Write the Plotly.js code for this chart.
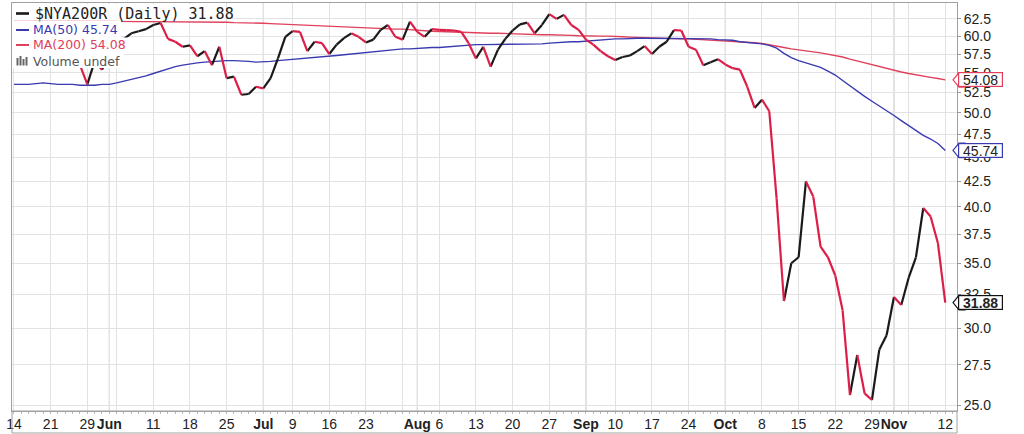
<!DOCTYPE html>
<html><head><meta charset="utf-8">
<script src="https://cdn.plot.ly/plotly-3.0.1.min.js"></script>
<style>html,body{margin:0;padding:0;background:#fff}#chart{width:1024px;height:434px}</style>
</head><body><div id="chart"></div>
<script>
// Trading days 2018-05-14 .. 2018-11-12 (MM-DD)
const dates = [
 '05-14','05-15','05-16','05-17','05-18','05-21','05-22','05-23','05-24','05-25','05-29','05-30','05-31',
 '06-01','06-04','06-05','06-06','06-07','06-08','06-11','06-12','06-13','06-14','06-15','06-18','06-19','06-20','06-21','06-22','06-25','06-26','06-27','06-28','06-29',
 '07-02','07-03','07-05','07-06','07-09','07-10','07-11','07-12','07-13','07-16','07-17','07-18','07-19','07-20','07-23','07-24','07-25','07-26','07-27','07-30','07-31',
 '08-01','08-02','08-03','08-06','08-07','08-08','08-09','08-10','08-13','08-14','08-15','08-16','08-17','08-20','08-21','08-22','08-23','08-24','08-27','08-28','08-29','08-30','08-31',
 '09-04','09-05','09-06','09-07','09-10','09-11','09-12','09-13','09-14','09-17','09-18','09-19','09-20','09-21','09-24','09-25','09-26','09-27','09-28',
 '10-01','10-02','10-03','10-04','10-05','10-08','10-09','10-10','10-11','10-12','10-15','10-16','10-17','10-18','10-19','10-22','10-23','10-24','10-25','10-26','10-29','10-30','10-31',
 '11-01','11-02','11-05','11-06','11-07','11-08','11-09','11-12'
];
const price = [
 57.0,56.2,56.8,57.3,56.6,57.6,57.1,56.5,57.0,56.0,53.5,56.5,55.4,
 57.5,58.6,59.6,60.4,60.7,61.0,61.6,61.9,59.6,59.2,58.5,58.7,57.2,57.9,56.0,58.5,54.3,54.5,52.2,52.3,53.2,
 53.0,54.3,56.9,59.9,60.7,60.6,57.9,59.2,59.0,57.5,58.8,59.7,60.4,59.9,59.1,59.5,60.9,61.6,59.9,59.5,62.1,
 60.6,59.9,61.0,60.9,60.85,60.8,60.6,59.0,56.9,58.5,55.8,58.1,59.6,60.8,61.7,61.95,60.4,61.6,63.2,62.5,63.1,61.6,60.9,
 59.5,58.8,57.9,57.2,56.7,57.1,57.3,57.9,58.6,57.5,58.5,59.2,60.85,60.8,58.5,58.1,56.0,56.4,56.8,
 56.1,55.6,55.4,53.2,50.6,51.6,50.2,40.8,32.0,35.0,35.5,42.5,41.0,36.4,35.5,34.0,31.3,25.6,28.15,25.7,25.3,28.5,29.5,
 32.3,31.7,33.8,35.5,39.9,39.1,36.7,31.88
];
const ma50 = [
 53.5,53.5,53.5,53.6,53.7,53.6,53.5,53.5,53.5,53.4,53.4,53.4,53.5,
 53.5,53.7,53.9,54.1,54.4,54.6,54.9,55.2,55.5,55.8,56.0,56.2,56.3,56.4,56.5,56.6,56.6,56.6,56.5,56.5,56.4,
 56.4,56.5,56.6,56.7,56.8,56.9,57.0,57.1,57.2,57.3,57.3,57.4,57.5,57.6,57.7,57.8,57.9,58.0,58.1,58.2,58.2,
 58.3,58.3,58.4,58.4,58.5,58.6,58.7,58.7,58.8,58.8,58.8,58.8,58.8,58.8,58.8,58.9,58.9,58.9,59.0,59.1,59.1,59.2,59.2,
 59.3,59.4,59.5,59.5,59.6,59.6,59.7,59.7,59.7,59.7,59.7,59.7,59.7,59.7,59.7,59.7,59.6,59.6,59.5,
 59.5,59.4,59.2,59.1,59.1,58.9,58.7,58.3,57.6,57.0,56.6,56.3,56.1,55.7,55.2,54.7,54.0,53.3,52.6,52.0,51.4,50.85,50.3,
 49.7,49.1,48.5,47.9,47.4,47.0,46.5,45.74
];
const ma200 = [
 62.3,62.3,62.3,62.3,62.3,62.3,62.3,62.2,62.2,62.2,62.2,62.2,62.2,
 62.2,62.15,62.1,62.1,62.1,62.1,62.1,62.1,62.1,62.0,62.0,62.0,62.0,62.0,62.0,62.0,62.0,61.95,61.95,61.9,61.9,
 61.85,61.8,61.75,61.7,61.65,61.6,61.55,61.5,61.45,61.4,61.35,61.3,61.25,61.2,61.1,61.1,61.05,61.0,61.0,61.0,60.9,
 60.85,60.8,60.7,60.65,60.6,60.55,60.5,60.5,60.45,60.45,60.4,60.4,60.35,60.3,60.3,60.25,60.25,60.2,60.2,60.2,60.15,60.1,60.05,
 60.0,60.0,60.0,60.0,60.0,59.9,59.85,59.8,59.75,59.7,59.7,59.65,59.65,59.6,59.6,59.55,59.5,59.45,59.4,
 59.35,59.3,59.2,59.15,59.05,58.95,58.8,58.6,58.4,58.2,58.1,57.95,57.8,57.65,57.5,57.3,57.1,56.8,56.55,56.3,56.05,55.8,55.5,
 55.3,55.1,54.9,54.7,54.55,54.4,54.25,54.08
];
const tickDates  = ['05-14','05-21','05-29','06-01','06-04','06-11','06-18','06-25','07-02','07-09','07-16','07-23','07-30','08-01','08-06','08-13','08-20','08-27','09-04','09-10','09-17','09-24','10-01','10-08','10-15','10-22','10-29','11-01','11-05','11-12'];
const tickLabels = ['14','21','29','Jun','','11','18','25','Jul','9','16','23','','Aug','6','13','20','27','Sep','10','17','24','Oct','8','15','22','29','Nov','','12'];
const monthDates = ['06-01','07-02','08-01','09-04','10-01','11-01'];
const monthNames = ['Jun','Jul','Aug','Sep','Oct','Nov'];
const yTicks = [25,27.5,30,32.5,35,37.5,40,42.5,45,47.5,50,52.5,55,57.5,60,62.5];

const C_UP = '#1a1a1a', C_DN = '#dc1f48', C_MA50 = '#3a3ab0', C_MA200 = '#e0405c';

const idx = dates.map((d, i) => i);
const up = {x: [], y: []}, dn = {x: [], y: []};
for (let i = 1; i < price.length; i++) {
  const seg = price[i] < price[i - 1] ? dn : up;
  seg.x.push(i - 1, i, null); seg.y.push(price[i - 1], price[i], null);
}
const traces = [
  {x: idx, y: ma200, type: 'scatter', mode: 'lines', line: {color: C_MA200, width: 1.4}, hoverinfo: 'skip'},
  {x: idx, y: ma50, type: 'scatter', mode: 'lines', line: {color: C_MA50, width: 1.4}, hoverinfo: 'skip'},
  {x: up.x, y: up.y, type: 'scatter', mode: 'lines', connectgaps: false, line: {color: C_UP, width: 2.2}, hoverinfo: 'skip'},
  {x: dn.x, y: dn.y, type: 'scatter', mode: 'lines', connectgaps: false, line: {color: C_DN, width: 2.2}, hoverinfo: 'skip'}
];

// pixel -> paper helpers (plot area: x 12..957, y 3..411)
const PX = p => (p - 12) / 945, PY = p => (411 - p) / 408;
const shapes = [], annotations = [];
const tickvals = tickDates.map(d => dates.indexOf(d));
const ticktext = tickLabels.map(t => monthNames.includes(t) ? '<b>' + t + '</b>' : t);

monthDates.forEach(d => {
  const i = dates.indexOf(d);
  shapes.push({type: 'line', xref: 'x', yref: 'paper', x0: i, x1: i, y0: 0, y1: 1, line: {color: '#bdbdbd', width: 1}, layer: 'below'});
});
// date strip under plot
shapes.push({type: 'rect', xref: 'paper', yref: 'paper', x0: 0, x1: 1, y0: PY(433), y1: 0, line: {color: '#a0a0a0', width: 1}, fillcolor: 'rgba(0,0,0,0)'});

// legend backgrounds
[[12, 226, 4, 20.5], [12, 121, 20.5, 37.5], [12, 128, 37.5, 53], [12, 124, 53, 68]].forEach(r => {
  shapes.push({type: 'rect', xref: 'paper', yref: 'paper', x0: PX(r[0] + 0.5), x1: PX(r[1]), y0: PY(r[3]), y1: PY(r[2]), line: {width: 0}, fillcolor: '#fff', layer: 'above'});
});
const legendRows = [
  {text: '$NYA200R (Daily) ' + price[price.length - 1].toFixed(2), color: '#222', line: C_UP, y: 13.5, font: 'DejaVu Sans Mono', size: 15, w: 2.6, x: 33},
  {text: 'MA(50) ' + ma50[ma50.length - 1].toFixed(2), color: C_MA50, line: C_MA50, y: 30, font: 'DejaVu Sans', size: 12.5, w: 2, x: 31},
  {text: 'MA(200) ' + ma200[ma200.length - 1].toFixed(2), color: C_MA200, line: C_MA200, y: 45, font: 'DejaVu Sans', size: 12.5, w: 2, x: 31},
  {text: 'Volume undef', color: '#555', line: null, y: 61, font: 'DejaVu Sans', size: 12.5, x: 31}
];
legendRows.forEach(r => {
  if (r.line) shapes.push({type: 'line', xref: 'paper', yref: 'paper', x0: PX(16), x1: PX(29), y0: PY(r.y), y1: PY(r.y), line: {color: r.line, width: r.w}, layer: 'above'});
  annotations.push({xref: 'paper', yref: 'paper', x: PX(r.x), y: PY(r.y), xanchor: 'left', yanchor: 'middle', showarrow: false, text: r.text, font: {family: r.font, size: r.size, color: r.color}});
});
// volume icon bars
[[16.5, 58], [19.5, 56], [22.5, 59], [25.5, 57]].forEach(b => {
  shapes.push({type: 'rect', xref: 'paper', yref: 'paper', x0: PX(b[0]), x1: PX(b[0] + 2), y0: PY(65.5), y1: PY(b[1]), line: {width: 0}, fillcolor: '#666', layer: 'above'});
});

// value tags on right
const tags = [
  {v: ma200[ma200.length - 1], c: C_MA200, bold: false},
  {v: ma50[ma50.length - 1], c: C_MA50, bold: false},
  {v: price[price.length - 1], c: '#111', bold: true}
];
tags.forEach(t => {
  shapes.push({type: 'path', xref: 'paper', yref: 'y', xsizemode: 'pixel', ysizemode: 'pixel', xanchor: 1, yanchor: t.v,
    path: 'M -4 0 L 2 7.3 L 8 7.3 L 8 -7.3 L 2 -7.3 Z', fillcolor: '#fff', line: {color: t.c, width: 1.2}, layer: 'above'});
  annotations.push({xref: 'paper', yref: 'y', x: PX(980.5), y: Math.log10(t.v), xanchor: 'center', yanchor: 'middle', showarrow: false,
    width: 42, height: 12, borderpad: 0.5, borderwidth: 1.2, bordercolor: t.c, bgcolor: '#fff',
    text: t.bold ? '<b>' + t.v.toFixed(2) + '</b>' : t.v.toFixed(2), font: {family: 'Liberation Sans, Arial', size: 14, color: '#222'}});
});

const layout = {
  width: 1024, height: 434,
  margin: {l: 12, r: 67, t: 3, b: 23, pad: 0},
  paper_bgcolor: '#fff', plot_bgcolor: '#fff', showlegend: false,
  xaxis: {range: [-0.27, 128.6], tickmode: 'array', tickvals: tickvals, ticktext: ticktext, showgrid: true, gridcolor: '#e2e2e2', gridwidth: 1,
    zeroline: false, showline: true, mirror: true, linecolor: '#a0a0a0', ticks: '', tickangle: 0,
    tickfont: {family: 'Liberation Sans, Arial', size: 14, color: '#222'},
    minor: {tickmode: 'linear', tick0: 0, dtick: 1, ticks: 'outside', ticklen: 2, tickcolor: '#bbb', showgrid: false}, fixedrange: true},
  yaxis: {type: 'log', side: 'right', range: [Math.log10(24.65), Math.log10(64.9)], tickmode: 'array', tickvals: yTicks, ticktext: yTicks.map(v => v.toFixed(1)),
    showgrid: true, gridcolor: '#e2e2e2', zeroline: false, showline: true, mirror: true, linecolor: '#a0a0a0', ticks: 'outside', ticklen: 3, tickcolor: '#999',
    tickfont: {family: 'Liberation Sans, Arial', size: 14, color: '#222'}, fixedrange: true},
  shapes: shapes, annotations: annotations
};
Plotly.newPlot('chart', traces, layout, {staticPlot: true, displayModeBar: false});
</script></body></html>
